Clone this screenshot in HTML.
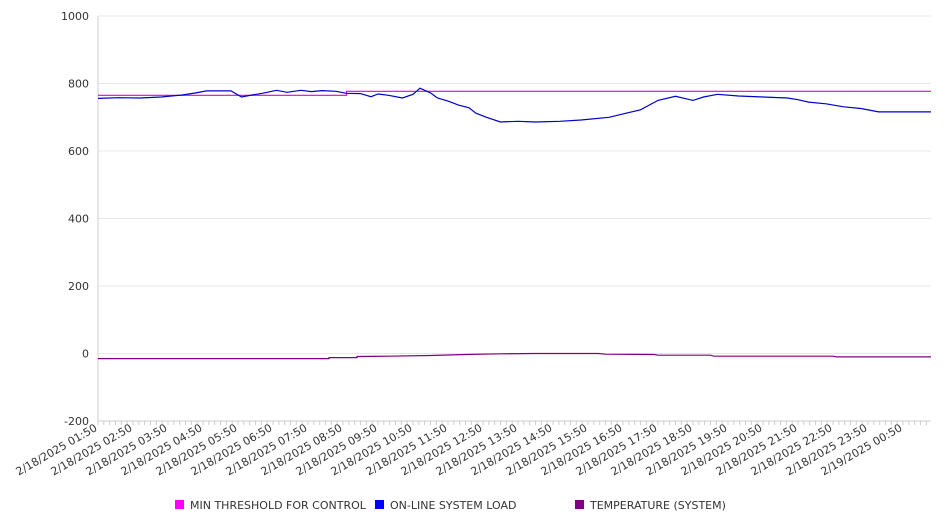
<!DOCTYPE html>
<html><head><meta charset="utf-8"><style>
body{margin:0;background:#fff;font-family:"Liberation Sans","DejaVu Sans",sans-serif}
svg text{font-family:"DejaVu Sans","Liberation Sans",sans-serif;fill:#333}
</style></head><body>
<svg id="chart" width="946" height="526" xmlns="http://www.w3.org/2000/svg"></svg>
<script>
const yTicks=[1000,800,600,400,200,0,-200];
const xLabels=["2/18/2025 01:50","2/18/2025 02:50","2/18/2025 03:50","2/18/2025 04:50","2/18/2025 05:50","2/18/2025 06:50","2/18/2025 07:50","2/18/2025 08:50","2/18/2025 09:50","2/18/2025 10:50","2/18/2025 11:50","2/18/2025 12:50","2/18/2025 13:50","2/18/2025 14:50","2/18/2025 15:50","2/18/2025 16:50","2/18/2025 17:50","2/18/2025 18:50","2/18/2025 19:50","2/18/2025 20:50","2/18/2025 21:50","2/18/2025 22:50","2/18/2025 23:50","2/19/2025 00:50"];
// hours since 01:50
const loadTimes=[0,0.6,1.2,1.8,2.4,2.8,3.1,3.8,4.1,4.4,4.7,5.1,5.4,5.8,6.1,6.4,6.8,7.1,7.5,7.8,8.0,8.3,8.7,9.0,9.2,9.5,9.7,10.0,10.3,10.6,10.8,11.1,11.5,12.0,12.5,13.2,13.8,14.6,15.0,15.5,16.0,16.5,17.0,17.3,17.7,18.3,19.0,19.7,20.0,20.3,20.8,21.3,21.8,22.3,23.0,23.8];
const loadValues=[756,758,757,760,766,772,778,778,760,766,771,780,774,780,776,779,777,771,770,761,769,765,757,768,786,772,757,748,736,728,712,700,686,688,686,688,692,700,710,722,750,762,750,760,768,763,760,757,752,745,740,731,726,716,716,716];
const threshTimes=[0,7.1,7.1,23.8];
const threshValues=[765,765,777,777];
const tempTimes=[0,6.6,6.6,7.4,7.4,8.3,9.5,10.5,11.5,12.5,14.3,14.5,15.9,16.0,17.5,17.6,21.0,21.1,23.8];
const tempValues=[-15,-15,-12,-12,-9,-8,-6,-3,-1,0,0,-2,-3,-5,-5,-8,-8,-10,-10];

const svg=document.getElementById('chart');
const NS='http://www.w3.org/2000/svg';
const X0=98,X1=931,Y0=16,Y1=421,HOURPX=35;
const xS=h=>X0+h*HOURPX;
const yS=v=>Y1-(v+200)/1200*(Y1-Y0);
function mk(t,a){const e=document.createElementNS(NS,t);for(const k in a)e.setAttribute(k,a[k]);svg.appendChild(e);return e;}
yTicks.forEach(v=>{
  const g=mk('line',{x1:X0,x2:X1,y1:yS(v),y2:yS(v),stroke:'#e8e8e8','stroke-width':1});
  
  
  const t=mk('text',{x:89,y:yS(v)+4,'text-anchor':'end','font-size':11});
  t.textContent=v;
  
  
});
const ax=mk('line',{x1:X0,x2:X0,y1:Y0,y2:Y1,stroke:'#ccc'});


const xa=mk('line',{x1:X0,x2:X1,y1:Y1,y2:Y1,stroke:'#ccc'});


for(let m=0;m*10/60*HOURPX<=X1-X0;m++){
  const x=X0+m*10/60*HOURPX;
  const tk=mk('line',{x1:x,x2:x,y1:Y1,y2:Y1+4,stroke:'#ccc'});
  
  
}
xLabels.forEach((l,i)=>{
  const x=xS(i),y=Y1+9;
  const t=mk('text',{x:x,y:y,'text-anchor':'end','font-size':11,transform:`rotate(-30 ${x} ${y})`});
  t.textContent=l;
  
  
});
function series(ts,vs,color,name){
  const d=ts.map((h,i)=>(i?'L':'M')+xS(h).toFixed(1)+','+yS(vs[i]).toFixed(1)).join('');
  const p=mk('path',{d:d,fill:'none',stroke:color,'stroke-width':1.2});
  
  
}
series(threshTimes,threshValues,'#e000e0','min-threshold-line');
series(tempTimes,tempValues,'#800080','temperature-line');
series(loadTimes,loadValues,'#0000cc','online-system-load-line');
const leg=[['#ff00ff','MIN THRESHOLD FOR CONTROL',175,'legend-min-threshold'],['#0000ff','ON-LINE SYSTEM LOAD',375,'legend-system-load'],['#800080','TEMPERATURE (SYSTEM)',575,'legend-temperature']];
leg.forEach(l=>{
  const r=mk('rect',{x:l[2],y:500,width:9,height:9,fill:l[0]});
  
  
  const t=mk('text',{x:l[2]+15,y:509,'font-size':11});
  t.textContent=l[1];
  
  
});
</script>
</body></html>
